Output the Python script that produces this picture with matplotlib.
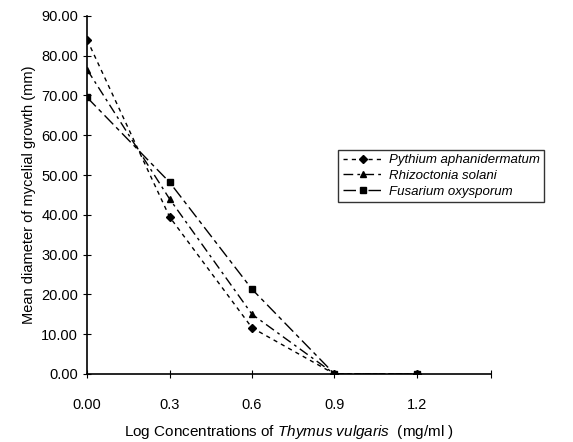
import numpy as np
import matplotlib.pyplot as plt

plt.rcParams['font.family'] = ['Liberation Sans', 'DejaVu Sans']
plt.rcParams['mathtext.fontset'] = 'custom'
plt.rcParams['mathtext.rm'] = 'Liberation Sans'
plt.rcParams['mathtext.it'] = 'Liberation Sans:italic'

# log concentrations of Thymus vulgaris
conc = [0.0, 0.3, 0.6, 0.9, 1.2]
conc_labels = ['0.00', '0.3', '0.6', '0.9', '1.2']

# mean diameter of mycelial growth (mm)
pythium = [84.0, 39.5, 11.6, 0.0, 0.0]
rhizoctonia = [76.5, 44.0, 15.0, 0.0, 0.0]
fusarium = [69.5, 48.2, 21.3, 0.0, 0.0]

fig = plt.figure(figsize=(5.73, 4.42), dpi=100)
ax = fig.add_axes([0.152, 0.154, 0.705, 0.81])

ax.plot(conc, pythium, color='black', lw=1.0, linestyle=(0, (3, 3)),
        marker='D', markersize=4, label='Pythium aphanidermatum')
ax.plot(conc, rhizoctonia, color='black', lw=1.0, linestyle=(0, (7, 3, 2, 3)),
        marker='^', markersize=5, label='Rhizoctonia solani')
ax.plot(conc, fusarium, color='black', lw=1.0, linestyle=(0, (9, 3, 3, 3)),
        marker='s', markersize=4, label='Fusarium oxysporum')

ax.set_xlim(0, 1.47)
ax.set_ylim(0, 90)
ax.set_xticks(conc + [1.47])
ax.set_xticklabels(conc_labels + [''])
ax.set_yticks(np.arange(0, 91, 10))
ax.set_yticklabels(['%.2f' % v for v in np.arange(0, 91, 10)])
ax.tick_params(axis='y', direction='inout', length=6, labelsize=10.5)
ax.tick_params(axis='x', direction='inout', length=6, labelsize=10.5, pad=14)

ax.spines['top'].set_visible(False)
ax.spines['right'].set_visible(False)
ax.spines['left'].set_linewidth(1.2)
ax.spines['bottom'].set_linewidth(1.2)

ax.set_xlabel(r'Log Concentrations of $\it{Thymus\ vulgaris}$  (mg/ml )', fontsize=11, labelpad=8)
ax.set_ylabel('Mean diameter of mycelial growth (mm)', fontsize=10.5, labelpad=4)

leg = ax.legend(loc='upper left', bbox_to_anchor=(0.605, 0.645), frameon=True,
                fancybox=False, edgecolor='black', prop={'style': 'italic', 'size': 9.5},
                handlelength=3.0, borderpad=0.35, labelspacing=0.25, handletextpad=0.5)
leg.get_frame().set_linewidth(1.0)

fig.savefig('out.png', dpi=100)
